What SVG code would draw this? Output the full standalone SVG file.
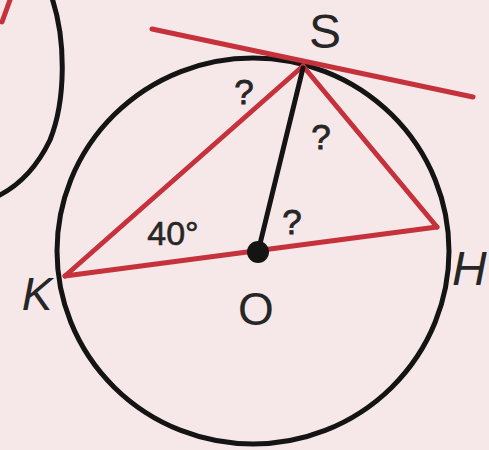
<svg xmlns="http://www.w3.org/2000/svg" width="489" height="450" viewBox="0 0 489 450">
<style>
.blk{fill:none;stroke:#141414;stroke-width:5;stroke-linecap:round}
.red{fill:none;stroke:#c5323c;stroke-width:5;stroke-linecap:round}
.lbl{font-family:"Liberation Sans",Arial,sans-serif;fill:#262626}
.q{font-size:35px;text-anchor:middle;stroke:#262626;stroke-width:0.8}
</style>
<rect width="489" height="450" fill="#f6e8e8"/>
<g id="left-circle">
<path class="blk" d="M52,-2 C66,40 66,100 50,140 C38,165 20,185 -2,196"/>
<path class="red" d="M2,22 L10,0"/>
</g>
<g id="circle">
<ellipse class="blk" cx="253" cy="251" rx="196" ry="193"/>
</g>
<g id="connectors">
<line class="red" x1="152" y1="29" x2="473" y2="97"/>
<line class="red" x1="303" y1="66" x2="65" y2="276"/>
<line class="red" x1="303" y1="66" x2="437" y2="227"/>
<line class="red" x1="65" y1="276" x2="437" y2="227"/>
<line class="blk" x1="303" y1="68" x2="258" y2="252"/>
</g>
<g id="O">
<circle cx="258" cy="252" r="11" fill="#141414"/>
<text class="lbl" x="256" y="325" font-size="46" text-anchor="middle">O</text>
</g>
<g id="S"><text class="lbl" x="325" y="48" font-size="48" text-anchor="middle">S</text></g>
<g id="K"><text class="lbl" x="37" y="310" font-size="46" text-anchor="middle" font-style="italic">K</text></g>
<g id="H"><text class="lbl" x="452" y="285" font-size="48" font-style="italic">H</text></g>
<g id="labels">
<text class="lbl" x="173" y="245" font-size="34" text-anchor="middle" stroke="#262626" stroke-width="0.6">40°</text>
<text class="lbl q" x="244" y="104">?</text>
<text class="lbl q" x="321" y="149">?</text>
<text class="lbl q" x="292" y="234">?</text>
</g>
</svg>
